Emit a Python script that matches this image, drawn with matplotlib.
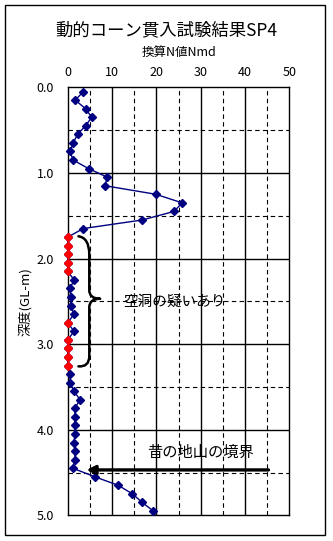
import matplotlib
matplotlib.use("Agg")
import matplotlib.pyplot as plt
from matplotlib.path import Path
from matplotlib.patches import PathPatch, Rectangle
import numpy as np

plt.rcParams['font.family'] = ['Noto Sans CJK JP', 'DejaVu Sans']

title = "動的コーン貫入試験結果SP4"
xlabel = "換算N値Nmd"
ylabel = "深度(GL-m)"
note_void = "空洞の疑いあり"
note_bound = "昔の地山の境界"

depth = [0.05, 0.15, 0.25, 0.35, 0.45, 0.55, 0.65, 0.75, 0.85, 0.95,
         1.05, 1.15, 1.25, 1.35, 1.45, 1.55, 1.65, 1.75, 1.85, 1.95,
         2.05, 2.15, 2.25, 2.35, 2.45, 2.55, 2.65, 2.75, 2.85, 2.95,
         3.05, 3.15, 3.25, 3.35, 3.45, 3.55, 3.65, 3.75, 3.85, 3.95,
         4.05, 4.15, 4.25, 4.35, 4.45, 4.55, 4.65, 4.75, 4.85, 4.95]
nmd = [3.5, 1.7, 4.0, 5.4, 4.0, 2.2, 1.2, 0.5, 1.2, 4.7,
       8.9, 8.4, 19.9, 25.8, 24.0, 16.8, 3.5, 0.0, 0.0, 0.0,
       0.0, 0.0, 1.4, 0.5, 0.65, 0.65, 1.4, 0.0, 1.4, 0.0,
       0.0, 0.0, 0.0, 0.5, 0.5, 1.4, 2.75, 1.6, 1.6, 1.6,
       1.6, 1.4, 1.6, 1.6, 1.1, 6.1, 11.4, 14.6, 16.8, 19.3]
void_depth = [1.75, 1.85, 1.95, 2.05, 2.15, 2.75, 2.95, 3.05, 3.15, 3.25]
void_nmd = [0, 0, 0, 0, 0, 0, 0, 0, 0, 0]

xticks = [0, 10, 20, 30, 40, 50]
yticks = [0.0, 1.0, 2.0, 3.0, 4.0, 5.0]
boundary_depth = 4.47

W, H = 333, 541
fig = plt.figure(figsize=(W/100, H/100), dpi=100)
fig.patch.set_facecolor('white')

# outer frame
fig.patches.append(Rectangle((5/W, 1-535/H), 320/W, 530/H, transform=fig.transFigure,
                             fill=False, edgecolor='black', lw=1.0))

ax = fig.add_axes([67.8/W, 1-515.3/H, (289.3-67.8)/W, (515.3-87.3)/H])
ax.set_xlim(0, 50)
ax.set_ylim(5, 0)

# grid
for x in [5, 15, 25, 35, 45]:
    ax.axvline(x, color='black', lw=0.8, ls=(0, (4, 3)), zorder=1)
for x in [10, 20, 30, 40]:
    ax.axvline(x, color='black', lw=1.0, zorder=1)
for y in [0.5, 1.5, 2.5, 3.5, 4.5]:
    ax.axhline(y, color='black', lw=0.8, ls=(0, (4, 3)), zorder=1)
for y in [1, 2, 3, 4]:
    ax.axhline(y, color='black', lw=1.0, zorder=1)

ax.plot(nmd, depth, color='#000080', lw=1.0, marker='D', markersize=4,
        markerfacecolor='#000080', markeredgecolor='#000080', zorder=4, clip_on=False)
ax.plot(void_nmd, void_depth, ls='none', marker='D', markersize=4,
        markerfacecolor='#FF0000', markeredgecolor='#FF0000', zorder=5, clip_on=False)

ax.xaxis.tick_top()
ax.set_xticks(xticks)
ax.set_xticklabels([str(v) for v in xticks])
ax.set_yticks(yticks)
ax.set_yticklabels([f"{v:.1f}" for v in yticks])
ax.tick_params(axis='x', length=0, pad=6, labelsize=9)
ax.tick_params(axis='y', length=0, pad=10, labelsize=9)
for s in ax.spines.values():
    s.set_linewidth(1.0)
    s.set_color('black')

fig.text((67.8 + 289.3) / 2 / W, 1-52/H, xlabel, ha='center', va='center', fontsize=9)
ax.set_ylabel(ylabel, fontsize=9.5, labelpad=3)

fig.text(0.5, 1-30/H, title, ha='center', va='center', fontsize=12.5)

# brace
verts = [(2.4, 1.74), (4.85, 1.76), (4.85, 1.95),
         (4.85, 2.37), (4.85, 2.47), (7.3, 2.47),
         (4.85, 2.47), (4.85, 2.57), (4.85, 3.14),
         (4.85, 3.27), (2.4, 3.26)]
codes = [Path.MOVETO, Path.CURVE3, Path.CURVE3,
         Path.LINETO, Path.CURVE3, Path.CURVE3,
         Path.CURVE3, Path.CURVE3, Path.LINETO,
         Path.CURVE3, Path.CURVE3]
ax.add_patch(PathPatch(Path(verts, codes), fill=False, lw=1.8, edgecolor='black',
                       capstyle='round', joinstyle='round', zorder=6))
ax.text(12.5, 2.5, note_void, ha='left', va='center', fontsize=10.5, zorder=7)

# boundary arrow
ax.annotate('', xy=(4.2, boundary_depth), xytext=(45.3, boundary_depth),
            arrowprops=dict(arrowstyle='-|>,head_length=0.5,head_width=0.25',
                            color='black', lw=2.4, shrinkA=0, shrinkB=0), zorder=6)
ax.text(17.8, 4.27, note_bound, ha='left', va='center', fontsize=11, zorder=7)

fig.savefig('out.png', dpi=100, facecolor='white')
